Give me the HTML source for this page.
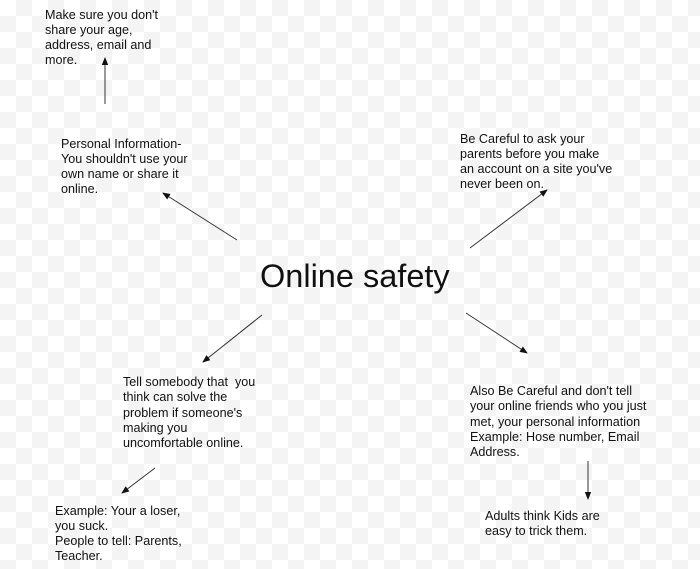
<!DOCTYPE html>
<html><head><meta charset="utf-8"><style>
html,body{margin:0;padding:0;}
body{width:700px;height:569px;overflow:hidden;
background-color:#fff;
background-image:linear-gradient(45deg,#f4f4f4 25%,transparent 25%,transparent 75%,#f4f4f4 75%),linear-gradient(45deg,#f4f4f4 25%,transparent 25%,transparent 75%,#f4f4f4 75%);
background-size:32px 32px;background-position:0 0,16px 16px;}
svg{position:absolute;left:0;top:0;}
text{font-family:"Liberation Sans",Arial,sans-serif;font-size:12.6px;fill:#111;white-space:pre;}
</style></head><body>
<svg width="700" height="569" viewBox="0 0 700 569">
<defs><marker id="a" markerWidth="8" markerHeight="8" refX="7" refY="4" orient="auto" markerUnits="userSpaceOnUse"><path d="M0,0.8 L8,4 L0,7.2 z" fill="#111"/></marker></defs>
<g stroke="#333" stroke-width="1" marker-end="url(#a)">
<line x1="105" y1="104" x2="105" y2="58"/>
<line x1="237" y1="240" x2="163" y2="193"/>
<line x1="470" y1="248" x2="547" y2="190"/>
<line x1="466" y1="313" x2="527" y2="353"/>
<line x1="262" y1="315" x2="203" y2="362"/>
<line x1="155" y1="468" x2="122" y2="493"/>
<line x1="588" y1="461" x2="588" y2="499"/>
</g>
<text x="260" y="287" style="font-size:32.5px">Online safety</text>
<text x="45" y="19">Make sure you don't</text><text x="45" y="34">share your age,</text><text x="45" y="49">address, email and</text><text x="45" y="64">more.</text>
<text x="61" y="148">Personal Information-</text><text x="61" y="163">You shouldn't use your</text><text x="61" y="178">own name or share it</text><text x="61" y="193">online.</text>
<text x="460" y="143">Be Careful to ask your</text><text x="460" y="158">parents before you make</text><text x="460" y="173">an account on a site you've</text><text x="460" y="188">never been on.</text>
<text x="123" y="386">Tell somebody that&#160; you</text><text x="123" y="401">think can solve the</text><text x="123" y="417">problem if someone's</text><text x="123" y="432">making you</text><text x="123" y="447">uncomfortable online.</text>
<text x="470" y="395">Also Be Careful and don't tell</text><text x="470" y="410">your online friends who you just</text><text x="470" y="426">met, your personal information</text><text x="470" y="441">Example: Hose number, Email</text><text x="470" y="456">Address.</text>
<text x="485" y="520">Adults think Kids are</text><text x="485" y="535">easy to trick them.</text>
<text x="55" y="515">Example: Your a loser,</text><text x="55" y="530">you suck.</text><text x="55" y="545">People to tell: Parents,</text><text x="55" y="560">Teacher.</text>
</svg>
</body></html>
